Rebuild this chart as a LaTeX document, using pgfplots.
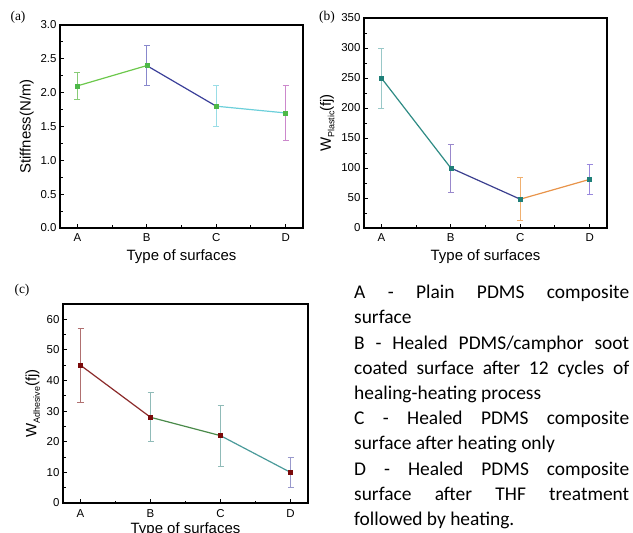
\documentclass[border=0pt]{standalone}
\usepackage{pgfplots}
\pgfplotsset{compat=1.18}
\usepackage{fontspec}
\setmainfont{Liberation Sans}
\newfontfamily\serifpanel{Liberation Serif}
\newfontfamily\calfont{Carlito}

% panel (a) colours
\definecolor{aAB}{HTML}{6CC84C}
\definecolor{aBC}{HTML}{3A3F99}
\definecolor{aCD}{HTML}{6CCFDA}
\definecolor{aeA}{HTML}{88CC77}
\definecolor{aeB}{HTML}{8888CC}
\definecolor{aeC}{HTML}{99DDE6}
\definecolor{aeD}{HTML}{CC88CC}
\definecolor{amk}{HTML}{4DB848}
% panel (b) colours
\definecolor{bAB}{HTML}{2E8B84}
\definecolor{bBC}{HTML}{3B3F8F}
\definecolor{bCD}{HTML}{E8944A}
\definecolor{beA}{HTML}{99C8C8}
\definecolor{beB}{HTML}{9988CC}
\definecolor{beC}{HTML}{F0B070}
\definecolor{beD}{HTML}{9988DD}
\definecolor{bmk}{HTML}{1F7F78}
% panel (c) colours
\definecolor{cAB}{HTML}{8B2A2A}
\definecolor{cBC}{HTML}{4A8A4A}
\definecolor{cCD}{HTML}{4A9A9A}
\definecolor{ceA}{HTML}{B07070}
\definecolor{ceB}{HTML}{90BBB8}
\definecolor{ceC}{HTML}{90BBB8}
\definecolor{ceD}{HTML}{9999CC}
\definecolor{cmk}{HTML}{7A0A0A}

\pgfplotsset{
  panel/.style={
    scale only axis,
    xmin=-0.25, xmax=3.25,
    xtick={0,1,2,3}, xticklabels={A,B,C,D},
    minor x tick num=1,
    tick pos=left, tick align=inside,
    major tick length=4bp, minor tick length=2.5bp,
    axis line style={line width=1.1bp},
    every tick/.style={black, line width=0.9bp},
    /pgf/number format/assume math mode=true,
    tick label style={font=\fontsize{11.5}{13}\selectfont},
    xticklabel style={yshift=-2bp},
    label style={font=\fontsize{15}{17}\selectfont},
    xlabel style={yshift=-1bp},
    xlabel={Type of surfaces},
    clip=false,
  },
  eb/.style={mark=none, forget plot,
    error bars/.cd, y dir=both, y explicit,
    error bar style={color=#1, line width=0.8bp},
    error mark options={rotate=90, mark size=3bp, color=#1, line width=0.8bp}},
  seg/.style={color=#1, line width=1.2bp, mark=none, forget plot},
  mk/.style={only marks, mark=square*, mark size=2bp, color=#1, mark options={fill=#1}, forget plot},
}

\begin{document}
\begin{tikzpicture}
\useasboundingbox (0,0) rectangle (633bp,533bp);
\clip (0,0) rectangle (633bp,533bp);

% ---------- (a) ----------
\begin{axis}[panel, at={(60bp,305bp)}, anchor=south west,
  width=243bp, height=203bp,
  ymin=0, ymax=3, ytick={0,0.5,...,3.0}, minor y tick num=1,
  yticklabel style={/pgf/number format/fixed, /pgf/number format/fixed zerofill, /pgf/number format/precision=1},
  ylabel={Stiffness(N/m)}]
\addplot[eb=aeA] coordinates {(0,2.1) +- (0,0.2)};
\addplot[eb=aeB] coordinates {(1,2.4) +- (0,0.3)};
\addplot[eb=aeC] coordinates {(2,1.8) +- (0,0.3)};
\addplot[eb=aeD] coordinates {(3,1.7) +- (0,0.4)};
\addplot[seg=aAB] coordinates {(0,2.1) (1,2.4)};
\addplot[seg=aBC] coordinates {(1,2.4) (2,1.8)};
\addplot[seg=aCD] coordinates {(2,1.8) (3,1.7)};
\addplot[mk=amk] coordinates {(0,2.1) (1,2.4) (2,1.8) (3,1.7)};
\end{axis}

% ---------- (b) ----------
\begin{axis}[panel, at={(364bp,305bp)}, anchor=south west,
  width=243bp, height=210bp,
  ymin=0, ymax=350, ytick={0,50,...,350}, minor y tick num=1,
  ylabel={W\raisebox{-0.45ex}{\fontsize{9}{10}\selectfont Plastic}(fj)}]
\addplot[eb=beA] coordinates {(0,250) +- (0,50)};
\addplot[eb=beB] coordinates {(1,100) +- (0,40)};
\addplot[eb=beC] coordinates {(2,48) +- (0,36)};
\addplot[eb=beD] coordinates {(3,81) +- (0,25)};
\addplot[seg=bAB] coordinates {(0,250) (1,100)};
\addplot[seg=bBC] coordinates {(1,100) (2,48)};
\addplot[seg=bCD] coordinates {(2,48) (3,81)};
\addplot[mk=bmk] coordinates {(0,250) (1,100) (2,48) (3,81)};
\end{axis}

% ---------- (c) ----------
\begin{axis}[panel, at={(63bp,30bp)}, anchor=south west,
  width=245bp, height=199bp,
  ymin=0, ymax=65, ytick={0,10,...,60}, minor y tick num=1,
  xticklabel style={yshift=-1bp},
  xlabel style={yshift=3bp},
  ylabel={W\raisebox{-0.45ex}{\fontsize{9}{10}\selectfont Adhesive}(fj)}]
\addplot[eb=ceA] coordinates {(0,45) +- (0,12)};
\addplot[eb=ceB] coordinates {(1,28) +- (0,8)};
\addplot[eb=ceC] coordinates {(2,22) +- (0,10)};
\addplot[eb=ceD] coordinates {(3,10) +- (0,5)};
\addplot[seg=cAB] coordinates {(0,45) (1,28)};
\addplot[seg=cBC] coordinates {(1,28) (2,22)};
\addplot[seg=cCD] coordinates {(2,22) (3,10)};
\addplot[mk=cmk] coordinates {(0,45) (1,28) (2,22) (3,10)};
\end{axis}

% panel labels
\node[font=\serifpanel\fontsize{13.5}{15}\selectfont] at (18bp,516bp) {(a)};
\node[font=\serifpanel\fontsize{13.5}{15}\selectfont] at (327bp,516bp) {(b)};
\node[font=\serifpanel\fontsize{13.5}{15}\selectfont] at (22bp,243bp) {(c)};

% legend text
\node[anchor=north west, inner sep=0pt] at (354bp,248bp) {\parbox[t]{275bp}{%
\calfont\fontsize{19.5}{25.3}\selectfont\tolerance=10000\hyphenpenalty=10000\exhyphenpenalty=10000\parindent=0pt\emergencystretch=20bp
A - Plain PDMS composite\linebreak surface\par
B - Healed PDMS/camphor soot\linebreak coated surface after 12 cycles of\linebreak healing-heating process\par
C - Healed PDMS composite\linebreak surface after heating only\par
D - Healed PDMS composite\linebreak surface after THF treatment\linebreak followed by heating.\par}};
\end{tikzpicture}
\end{document}
